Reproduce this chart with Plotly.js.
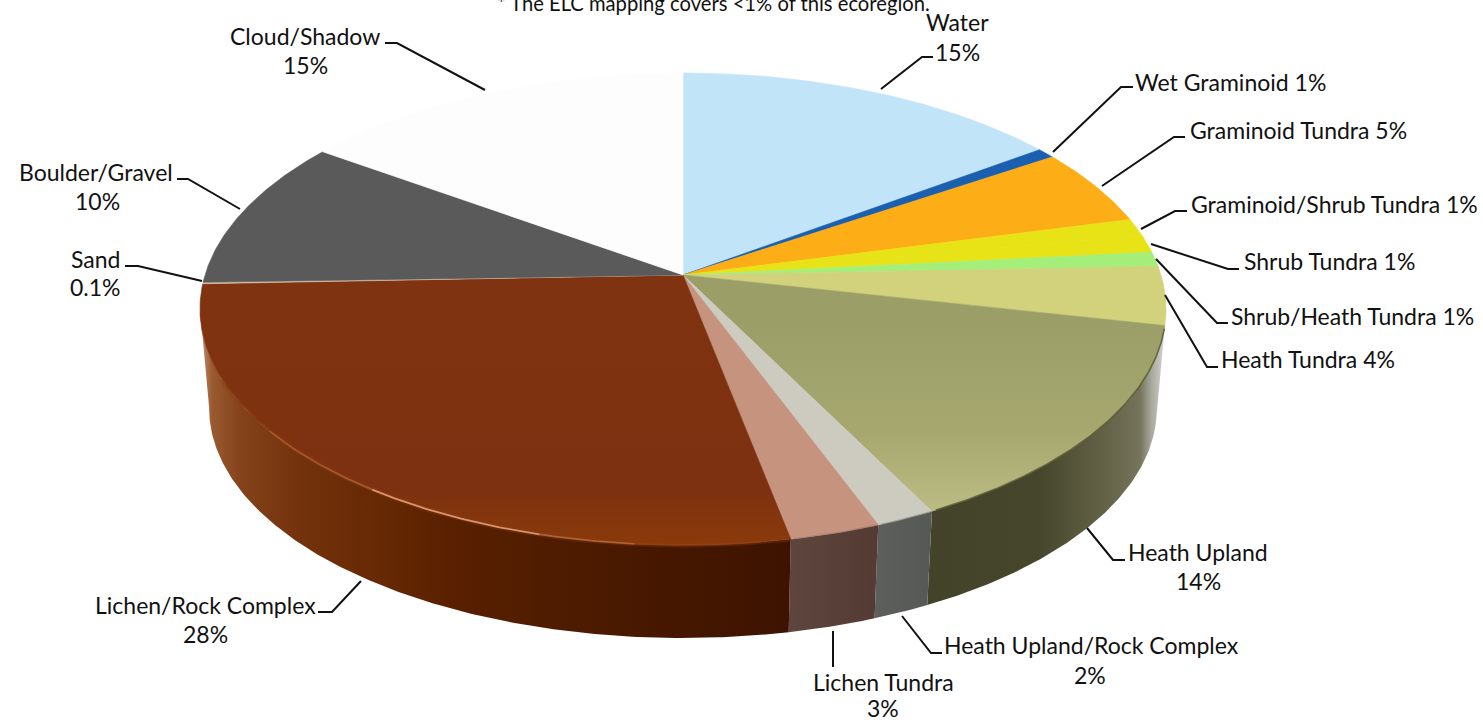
<!DOCTYPE html>
<html><head><meta charset="utf-8">
<script src="https://cdn.plot.ly/plotly-3.0.0.min.js"></script>
<style>html,body{margin:0;padding:0;background:#fff;overflow:hidden}</style>
</head><body><div id="chart" style="width:1483px;height:723px"></div>
<script>
// Data
const categories = ["Water","Wet Graminoid","Graminoid Tundra","Graminoid/Shrub Tundra","Shrub Tundra","Shrub/Heath Tundra","Heath Tundra","Heath Upland","Heath Upland/Rock Complex","Lichen Tundra","Lichen/Rock Complex","Sand","Boulder/Gravel","Cloud/Shadow"];
const shares = [15,0.7,5.3,1.2,1.2,1.0,4.0,14.1,1.75,2.65,27.5,0.1,10.3,15.2];
const pctLabels = ["15%","1%","5%","1%","1%","1%","4%","14%","2%","3%","28%","0.1%","10%","15%"];
const topColors = ["#c2e4f9","#1a5fb0","#fdae17","#e7e317","#e7e317","#a4ee7a","#d1d27b","#a0a26b","#cdcbc0","#c5937e","#7f3210","#d8c4b0","#5a5a5a","#fdfdfd"];

// Wall shading: [x position, colour] per visible side
const wallShades = {
 "Heath Upland":[[925,"#43432a"],[1040,"#46462c"],[1110,"#666549"],[1140,"#75745c"],[1152,"#aaaa9e"],[1166,"#d8d8d8"]],
 "Heath Upland/Rock Complex":[[875,"#5c5f5c"],[935,"#555853"]],
 "Lichen Tundra":[[788,"#5e453e"],[880,"#533a33"]],
 "Lichen/Rock Complex":[[198,"#c69c80"],[212,"#9a5a30"],[240,"#84431a"],[300,"#73320c"],[370,"#672a04"],[450,"#5a2000"],[550,"#4f1c00"],[650,"#471800"],[795,"#3d1300"]]
};

// Perspective disc
const K=0.144, CX=683;
const T={A:478,c:275,b:-191.5}, B={A:469,c:374.9,b:-171.2};
function pt(g,phi){const u=Math.sin(phi),v=Math.cos(phi),d=1+K*v;return [CX+g.A*u/d,(g.c+g.b*v)/d];}
const rad=d=>d*Math.PI/180;
function arc(g,a,b){const n=Math.max(2,Math.ceil(Math.abs(b-a)/rad(0.5)));const o=[];for(let i=0;i<=n;i++)o.push(pt(g,a+(b-a)*i/n));return o;}
const total=shares.reduce((a,b)=>a+b,0);
let cum=0;const bounds=shares.map(s=>{const a=cum/total*2*Math.PI;cum+=s;return [a,cum/total*2*Math.PI];});

const traces=[];
const WALL_A=rad(100),WALL_B=rad(262);
function poly(pts,extra){return Object.assign({type:"scatter",mode:"lines",x:pts.map(p=>p[0]),y:pts.map(p=>p[1]),fill:"toself",hoverinfo:"skip",showlegend:false},extra);}
// side walls
categories.forEach((c,i)=>{
  if(!wallShades[c])return;
  const a=Math.max(bounds[i][0],WALL_A),b=Math.min(bounds[i][1],WALL_B);
  if(b<=a)return;
  const t=arc(T,a,b),q=arc(B,a,b).reverse();
  const st=wallShades[c],x0=st[0][0],x1=st[st.length-1][0];
  traces.push(poly(t.concat(q),{line:{width:0},
    fillcolor:st[0][1],
    fillgradient:{type:"horizontal",start:x0,stop:x1,colorscale:st.map(s=>[(s[0]-x0)/(x1-x0),s[1]])}}));
});
// top faces
categories.forEach((c,i)=>{
  const [a,b]=bounds[i];
  const pts=[[CX,T.c]].concat(arc(T,a,b));pts.push([CX,T.c]);
  const extra={line:{width:0.6,color:topColors[i]},fillcolor:topColors[i]};
  if(c==="Heath Upland")extra.fillgradient={type:"vertical",start:320,stop:510,colorscale:[[0,"#9c9e68"],[0.6,"#a6a870"],[1,"#babc84"]]};
  if(c==="Lichen/Rock Complex")extra.fillgradient={type:"vertical",start:280,stop:545,colorscale:[[0,"#803310"],[0.8,"#7e3110"],[1,"#8a3a0a"]]};
  traces.push(poly(pts,extra));
});
// soft rim highlights
function rim(d0,d1,color,w,op){const p=arc(T,rad(d0),rad(d1));traces.push({type:"scatter",mode:"lines",x:p.map(q=>q[0]),y:p.map(q=>q[1]),opacity:op===undefined?1:op,line:{color:color,width:w},hoverinfo:"skip",showlegend:false});}
rim(169,245,"#8a3c12",5,0.35);
rim(172,185,"#8e4014",1.8,0.9);rim(185,195,"#b0663a",1.8,0.9);rim(195,215,"#d8946a",1.8,1);rim(215,232,"#a85c30",1.8,0.85);
rim(103,152.5,"#55552f",1.6,0.8);rim(153,159,"#8d8f88",1.2,0.7);rim(159.5,168.5,"#a07a6c",1.2,0.7);

// Labels: [text, centre x, centre y]
const labelSpots=[
 [0,957,22,957,52],[1,1230,82],[2,1298,130],[3,1334,204],[4,1329,261],[5,1352,316],[6,1308,359],
 [7,1198,552,1198,581],[8,1091,645,1090,675],[9,883,682,883,708],[10,205,605,205,634],[11,95,259,95,287],[12,96,172,97,201],[13,305,36,305,65]];
const FONT={family:"Lato,sans-serif",size:23,color:"#111"};
const annotations=[];
function note(t,x,y,f){annotations.push({text:t,x:x,y:y,xref:"x",yref:"y",xanchor:"center",yanchor:"middle",showarrow:false,font:f||FONT,borderpad:0});}
labelSpots.forEach(s=>{
  if(s.length===3)note(categories[s[0]]+" "+pctLabels[s[0]],s[1],s[2]);
  else{note(categories[s[0]],s[1],s[2]);note(pctLabels[s[0]],s[3],s[4]);}
});
note("* The ELC mapping covers &lt;1% of this ecoregion.",713,3,{family:"Lato,sans-serif",size:20.2,color:"#111"});

// Leaders
const leaders=[
 [[881,89],[922,57],[933,57]],[[1053,152],[1121,87],[1133,87]],[[1102,186],[1174,137],[1185,137]],
 [[1141,229],[1175,211],[1187,211]],[[1151,244],[1228,269],[1239,269]],[[1156,259],[1217,323],[1228,323]],
 [[1165,295],[1207,367],[1218,367]],[[1087,528],[1113,560],[1125,560]],[[902,616],[931,653],[942,653]],
 [[833,631],[833,667]],[[361,581],[332,612],[318,612]],[[202,281],[138,266],[125,266]],
 [[240,209],[188,179],[177,179]],[[485,90],[397,43],[385,43]]];
const shapes=leaders.map(l=>({type:"path",xref:"x",yref:"y",path:"M"+l.map(p=>p.join(",")).join("L"),line:{color:"#111",width:2}}));

const layout={width:1483,height:723,margin:{l:0,r:0,t:0,b:0},paper_bgcolor:"#fff",plot_bgcolor:"#fff",showlegend:false,
 xaxis:{range:[0,1483],visible:false,fixedrange:true},yaxis:{range:[723,0],visible:false,fixedrange:true},annotations,shapes};
Plotly.newPlot("chart",traces,layout,{displayModeBar:false,staticPlot:true});
</script></body></html>
